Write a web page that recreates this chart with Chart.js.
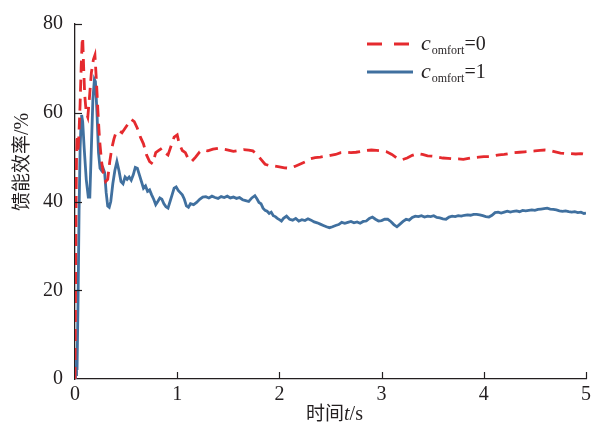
<!DOCTYPE html>
<html>
<head>
<meta charset="utf-8">
<script src="https://cdn.jsdelivr.net/npm/chart.js@4"></script>
<style>
  body { margin: 0; background: #fff; }
  #wrap { width: 597px; height: 434px; }
</style>
</head>
<body>
<div id="wrap"><canvas id="effChart" width="597" height="434"></canvas></div>
<script>
// time axis ticks and value axis ticks
const xTicks = [0, 1, 2, 3, 4, 5];
const yTicks = [0, 20, 40, 60, 80];

// c_omfort = 0 (red dashed)
const redT = [0, 0.005, 0.01, 0.015, 0.02, 0.03, 0.04, 0.05, 0.06, 0.07, 0.075, 0.085, 0.095, 0.11, 0.125, 0.14, 0.16, 0.18, 0.195, 0.21,
  0.225, 0.24, 0.26, 0.28, 0.3, 0.32, 0.34, 0.36, 0.38, 0.4, 0.43, 0.46, 0.49, 0.52, 0.55, 0.58, 0.61, 0.64, 0.67, 0.7,
  0.73, 0.76, 0.79, 0.82, 0.85, 0.88, 0.91, 0.94, 0.97, 1.0, 1.02, 1.05, 1.08, 1.11, 1.14, 1.18, 1.22, 1.26, 1.3, 1.35,
  1.4, 1.45, 1.5, 1.55, 1.6, 1.65, 1.7, 1.74, 1.78, 1.82, 1.86, 1.9, 1.95, 2.0, 2.05, 2.1, 2.15, 2.2, 2.25, 2.3,
  2.35, 2.4, 2.45, 2.5, 2.55, 2.6, 2.65, 2.7, 2.75, 2.8, 2.85, 2.9, 2.95, 3.0, 3.05, 3.1, 3.15, 3.2, 3.25, 3.3,
  3.35, 3.4, 3.45, 3.5, 3.55, 3.6, 3.65, 3.7, 3.75, 3.8, 3.85, 3.9, 3.95, 4.0, 4.05, 4.1, 4.15, 4.2, 4.25, 4.3,
  4.35, 4.4, 4.45, 4.5, 4.55, 4.6, 4.65, 4.7, 4.75, 4.8, 4.85, 4.9, 4.95, 5.0];
const redV = [0, 18, 38, 50, 55, 51, 56, 62, 70, 76, 77, 70, 64, 60, 59, 63, 69, 72, 73, 67,
  60, 54, 49, 46, 44.5, 45, 49, 52, 54, 55.5, 56, 55.5, 56.5, 57.5, 58.5, 58, 56.5, 54.5, 53, 50.5,
  49, 48.5, 51, 51.5, 52, 51, 50.5, 52.5, 54.5, 55, 53, 51.5, 51, 49.5, 49, 50, 51.2, 51.6, 51.4, 51.8,
  52, 51.8, 51.6, 51.3, 51.5, 51.7, 51.6, 51.4, 50.6, 49.5, 48.4, 48.1, 48, 47.8, 47.6, 47.5, 47.9, 48.4, 48.9, 49.6,
  49.9, 50, 50.2, 50.4, 50.6, 51, 51.1, 51, 51.1, 51.3, 51.5, 51.6, 51.5, 51.4, 51.2, 50.6, 49.8, 49.4, 49.8, 50.4,
  50.8, 50.6, 50.3, 50.2, 50, 49.8, 49.7, 49.6, 49.6, 49.5, 49.7, 49.9, 50, 50.1, 50.1, 50.3, 50.5, 50.6, 50.8, 51,
  51.1, 51.2, 51.3, 51.4, 51.5, 51.6, 51.5, 51.2, 50.9, 50.8, 50.8, 50.7, 50.8, 50.6];

// c_omfort = 1 (blue solid)
const blueT = [0, 0.005, 0.01, 0.015, 0.02, 0.03, 0.04, 0.05, 0.06, 0.065, 0.075, 0.09, 0.11, 0.13, 0.145, 0.16, 0.175, 0.19, 0.2, 0.215,
  0.23, 0.245, 0.26, 0.275, 0.29, 0.305, 0.32, 0.335, 0.35, 0.37, 0.39, 0.41, 0.43, 0.45, 0.47, 0.49, 0.51, 0.53, 0.55, 0.57,
  0.59, 0.61, 0.63, 0.65, 0.67, 0.69, 0.71, 0.73, 0.75, 0.77, 0.79, 0.81, 0.83, 0.85, 0.87, 0.89, 0.91, 0.93, 0.95, 0.97,
  0.99, 1.01, 1.03, 1.05, 1.07, 1.09, 1.11, 1.13, 1.16, 1.19, 1.22, 1.25, 1.28, 1.31, 1.34, 1.37, 1.4, 1.43, 1.46, 1.49,
  1.52, 1.55, 1.58, 1.61, 1.64, 1.67, 1.7, 1.73, 1.76, 1.78, 1.8, 1.82, 1.84, 1.86, 1.88, 1.9, 1.92, 1.94, 1.96, 1.98,
  2.0, 2.02, 2.04, 2.07, 2.1, 2.13, 2.16, 2.19, 2.22, 2.25, 2.28, 2.31, 2.34, 2.37, 2.4, 2.43, 2.46, 2.49, 2.52, 2.55,
  2.58, 2.61, 2.64, 2.67, 2.7, 2.73, 2.76, 2.79, 2.82, 2.85, 2.88, 2.91, 2.94, 2.97, 3.0, 3.03, 3.06, 3.09, 3.12, 3.15,
  3.18, 3.21, 3.24, 3.27, 3.3, 3.33, 3.36, 3.39, 3.42, 3.45, 3.48, 3.51, 3.54, 3.57, 3.6, 3.63, 3.66, 3.69, 3.72, 3.75,
  3.78, 3.81, 3.84, 3.87, 3.9, 3.93, 3.96, 3.99, 4.02, 4.05, 4.08, 4.11, 4.14, 4.17, 4.2, 4.23, 4.26, 4.29, 4.32, 4.35,
  4.38, 4.41, 4.44, 4.47, 4.5, 4.53, 4.56, 4.59, 4.62, 4.65, 4.68, 4.71, 4.74, 4.77, 4.8, 4.83, 4.86, 4.89, 4.92, 4.95,
  4.98, 5.0];
const blueV = [0, 3, 1, 5, 2, 18, 38, 52, 58, 59.5, 58, 52, 45, 41, 41, 52, 63, 67.5, 67, 60,
  51, 47.5, 47, 47.5, 46.5, 42, 39, 38.7, 40, 44, 47, 49, 47, 44.5, 44, 45.5, 45, 45.5, 44.8, 46,
  47.7, 47.5, 46, 44.5, 43, 43.5, 42.3, 42.6, 41.5, 40.5, 39.3, 40, 40.8, 40.5, 39.5, 38.8, 38.5, 40, 41.5, 43,
  43.3, 42.5, 42, 41.5, 40.5, 39, 38.7, 39.5, 39.3, 39.8, 40.5, 41, 41.1, 40.8, 41.2, 40.9, 40.7, 41.1, 40.9, 41.2,
  40.8, 41, 40.7, 40.9, 40.4, 40.2, 40, 40.8, 41.3, 40.6, 39.8, 39.5, 38.5, 38, 37.8, 37.3, 37.6, 36.8, 36.6, 36.2,
  35.9, 35.6, 36.2, 36.7, 36, 35.8, 36.2, 35.6, 35.9, 35.7, 36.1, 35.8, 35.4, 35.2, 34.9, 34.6, 34.3, 34.1, 34.3, 34.6,
  34.8, 35.3, 35.1, 35.3, 35.5, 35.2, 35.4, 35.1, 35.5, 35.6, 36.2, 36.5, 36, 35.6, 35.7, 36, 36, 35.5, 34.8, 34.3,
  34.9, 35.5, 36, 35.8, 36.4, 36.7, 36.6, 36.8, 36.5, 36.7, 36.6, 36.8, 36.4, 36.3, 36.1, 36, 36.5, 36.7, 36.6, 36.8,
  36.7, 36.9, 37, 36.9, 37.1, 37.1, 37, 36.8, 36.6, 36.5, 36.9, 37.5, 37.6, 37.4, 37.6, 37.8, 37.6, 37.8, 37.9, 37.7,
  38, 37.9, 38, 38.1, 38, 38.2, 38.3, 38.4, 38.5, 38.3, 38.2, 38.1, 37.9, 37.8, 37.9, 37.7, 37.6, 37.7, 37.5, 37.6,
  37.3, 37.4];

const RED = "#e52a2e";
const BLUE = "#40709f";
const INK = "#231f20";

// inward tick marks, axis titles and the legend
const extras = {
  id: "extras",
  afterDraw(chart) {
    const ctx = chart.ctx;
    const xs = chart.scales.x, ys = chart.scales.y;
    const area = chart.chartArea;
    ctx.save();
    ctx.strokeStyle = INK;
    ctx.lineWidth = 1.2;
    yTicks.forEach(function (v) {
      if (v === 0) return;
      const py = Math.round(ys.getPixelForValue(v)) + 0.5;
      ctx.beginPath();
      ctx.moveTo(area.left, py);
      ctx.lineTo(area.left + 7, py);
      ctx.stroke();
    });
    xTicks.forEach(function (v) {
      if (v === 0) return;
      const px = Math.round(xs.getPixelForValue(v)) + 0.5;
      ctx.beginPath();
      ctx.moveTo(px, area.bottom);
      ctx.lineTo(px, area.bottom - 7);
      ctx.stroke();
    });

    // x title: 时间t/s
    ctx.fillStyle = INK;
    ctx.textBaseline = "alphabetic";
    ctx.textAlign = "left";
    const parts = [
      ["时间", "19px 'Noto Sans CJK SC'"],
      ["t", "italic 20px 'Liberation Serif'"],
      ["/s", "20px 'Liberation Serif'"]
    ];
    let total = 0;
    parts.forEach(function (p) { ctx.font = p[1]; total += ctx.measureText(p[0]).width; });
    let cx = (area.left + area.right) / 2 + 4 - total / 2;
    parts.forEach(function (p) {
      ctx.font = p[1];
      ctx.fillText(p[0], cx, 420);
      cx += ctx.measureText(p[0]).width;
    });

    // y title: 馈能效率/%
    ctx.save();
    ctx.translate(28, 162);
    ctx.rotate(-Math.PI / 2);
    ctx.textAlign = "left";
    const yParts = [
      ["馈能效率", "19px 'Noto Sans CJK SC'"],
      ["/%", "20px 'Liberation Serif'"]
    ];
    let yTotal = 0;
    yParts.forEach(function (p) { ctx.font = p[1]; yTotal += ctx.measureText(p[0]).width; });
    let ty = -yTotal / 2;
    yParts.forEach(function (p) {
      ctx.font = p[1];
      ctx.fillText(p[0], ty, 0);
      ty += ctx.measureText(p[0]).width;
    });
    ctx.restore();

    // legend
    const rows = [
      { y: 44, color: RED, dash: [15, 12], label: "=0" },
      { y: 72, color: BLUE, dash: [], label: "=1" }
    ];
    rows.forEach(function (r) {
      ctx.save();
      ctx.strokeStyle = r.color;
      ctx.lineWidth = 3;
      ctx.setLineDash(r.dash);
      ctx.beginPath();
      ctx.moveTo(367, r.y);
      ctx.lineTo(413, r.y);
      ctx.stroke();
      ctx.restore();
      let lx = 421;
      ctx.font = "italic 22px 'Liberation Serif'";
      ctx.fillText("c", lx, r.y + 6);
      lx += ctx.measureText("c").width + 1;
      ctx.font = "12px 'Liberation Serif'";
      ctx.fillText("omfort", lx, r.y + 10);
      lx += ctx.measureText("omfort").width;
      ctx.font = "20px 'Liberation Serif'";
      ctx.fillText(r.label, lx, r.y + 6);
    });
    ctx.restore();
  }
};

const ctx = document.getElementById("effChart").getContext("2d");
new Chart(ctx, {
  type: "line",
  data: {
    datasets: [
      {
        label: "c_omfort=0",
        data: redT.map(function (t, i) { return { x: t, y: redV[i] }; }),
        borderColor: RED,
        borderWidth: 2.8,
        borderDash: [12, 7],
        pointRadius: 0,
        tension: 0,
        fill: false
      },
      {
        label: "c_omfort=1",
        data: blueT.map(function (t, i) { return { x: t, y: blueV[i] }; }),
        borderColor: BLUE,
        borderWidth: 2.8,
        pointRadius: 0,
        tension: 0,
        fill: false
      }
    ]
  },
  options: {
    responsive: false,
    animation: false,
    layout: { padding: { left: 0, right: 11, top: 15, bottom: 0 } },
    plugins: {
      legend: { display: false },
      tooltip: { enabled: false }
    },
    scales: {
      x: {
        type: "linear",
        min: 0,
        max: 5,
        afterFit: function (s) { s.height = 55; },
        afterBuildTicks: function (s) { s.ticks = xTicks.map(function (v) { return { value: v }; }); },
        grid: { display: true, drawOnChartArea: false, drawTicks: false },
        border: { display: true, color: INK, width: 1.3 },
        ticks: { font: { family: "'Liberation Serif'", size: 20 }, color: INK, padding: 4 }
      },
      y: {
        min: 0,
        max: 80,
        afterFit: function (s) { s.width = 75; },
        afterBuildTicks: function (s) { s.ticks = yTicks.map(function (v) { return { value: v }; }); },
        grid: { display: true, drawOnChartArea: false, drawTicks: false },
        border: { display: true, color: INK, width: 1.3 },
        ticks: { font: { family: "'Liberation Serif'", size: 20 }, color: INK, padding: 12 }
      }
    }
  },
  plugins: [extras]
});
</script>
</body>
</html>
